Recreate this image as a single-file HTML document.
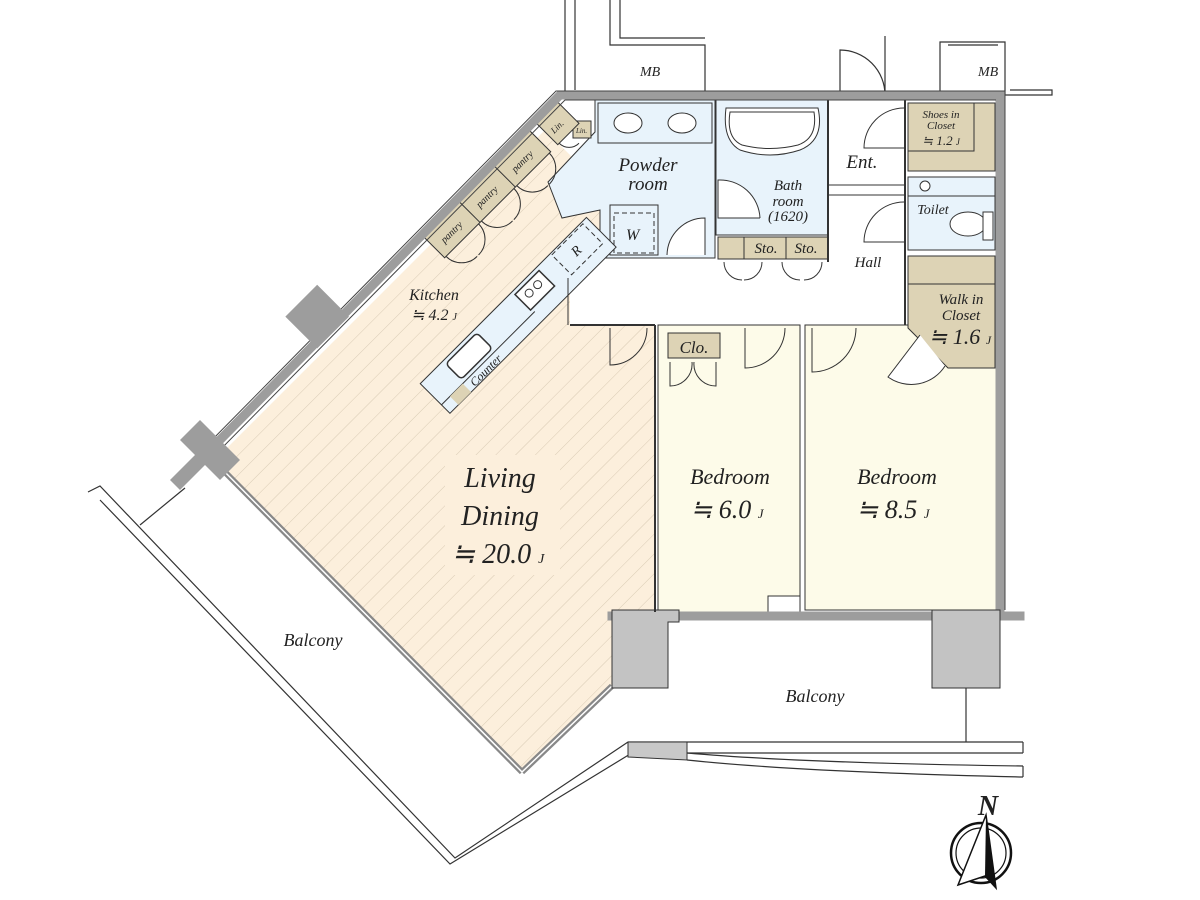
<!DOCTYPE html>
<html><head><meta charset="utf-8"><style>
html,body{margin:0;padding:0;background:#fff;}
svg{display:block;}
text{font-family:"Liberation Serif",serif;font-style:italic;fill:#222;}
</style></head><body>
<svg width="1200" height="900" viewBox="0 0 1200 900" xmlns="http://www.w3.org/2000/svg">
<defs>
<pattern id="hatch" width="14" height="14" patternUnits="userSpaceOnUse" patternTransform="rotate(45)">
<rect width="14" height="14" fill="#fcefdc"/>
<line x1="0" y1="0" x2="0" y2="14" stroke="#d9cbb4" stroke-width="1"/>
</pattern>
</defs>

<!-- top MB structures -->
<g fill="none" stroke="#333" stroke-width="1.2">
<polyline points="565,0 565,95"/>
<polyline points="575,0 575,90"/>
<polyline points="610,0 610,45 705,45 705,95"/>
<polyline points="620,0 620,38 705,38"/>
<polyline points="940,95 940,42 1005,42 1005,95 1052,95 1052,90 1010,90"/>
<line x1="948" y1="45" x2="998" y2="45"/>
<path d="M840,92 L840,50 A45,45 0 0 1 885,95"/>
<line x1="885" y1="36" x2="885" y2="95"/>
</g>
<text x="640" y="76" font-size="14">MB</text>
<text x="978" y="76" font-size="14">MB</text>

<!-- balconies -->
<g fill="none" stroke="#333" stroke-width="1.2">
<polyline points="88,492 100,486 455,858 628,742"/>
<polyline points="100,500 450,864 640,748"/>
<line x1="140" y1="525" x2="185" y2="488"/>
<line x1="628" y1="742" x2="1023" y2="742"/>
<line x1="687" y1="753" x2="1023" y2="753"/>
<line x1="1023" y1="742" x2="1023" y2="753"/>
<path d="M687,753 Q800,763 1023,766"/>
<path d="M687,760 Q800,772 1023,777"/>
<line x1="1023" y1="766" x2="1023" y2="777"/>
<line x1="966" y1="688" x2="966" y2="742"/>
</g>
<polygon points="628,742 687,742 687,760 628,757" fill="#c8c8c8" stroke="#333"/>

<!-- LD + kitchen floor -->
<polygon points="215,460 545,130 590,175 610,235 570,278 570,325 655,325 655,612 612,612 612,686 522,772" fill="url(#hatch)"/>
<rect x="445" y="455" width="115" height="120" fill="#fcefdc"/>

<!-- bedrooms -->
<rect x="658" y="325" width="142" height="287" fill="#fdfbe9" stroke="#333"/>
<rect x="805" y="325" width="192" height="285" fill="#fdfbe9" stroke="#333"/>
<rect x="768" y="596" width="32" height="16" fill="#fff" stroke="#333"/>

<!-- powder -->
<polygon points="595,100 715,100 715,258 600,258 600,210 562,218 548,182 595,132" fill="#e8f3fb" stroke="#333"/>
<rect x="598" y="103" width="114" height="40" fill="#e8f3fb" stroke="#333"/>
<ellipse cx="628" cy="123" rx="14" ry="10" fill="#fff" stroke="#333"/>
<ellipse cx="682" cy="123" rx="14" ry="10" fill="#fff" stroke="#333"/>
<rect x="573" y="121" width="18" height="17" fill="#ddd3b5" stroke="#333"/>
<text x="576" y="133" font-size="7">Lin.</text>
<rect x="610" y="205" width="48" height="50" fill="none" stroke="#333"/>
<rect x="614" y="213" width="40" height="40" fill="none" stroke="#333" stroke-dasharray="5,3"/>
<text x="626" y="240" font-size="16">W</text>
<path d="M705,255 L705,218 A38,38 0 0 0 667,255" fill="#fff" stroke="#333"/>

<!-- bath -->
<rect x="716" y="100" width="112" height="135" fill="#e8f3fb" stroke="#333"/>
<path d="M726,108 L818,108 Q825,140 800,150 Q770,160 740,150 Q722,140 726,108 Z" fill="#fff" stroke="#333"/>
<path d="M730,112 L814,112 Q818,138 798,145 Q770,152 742,145 Q726,138 730,112 Z" fill="none" stroke="#333"/>
<path d="M760,218 L718,218 L718,180 A40,40 0 0 1 760,218" fill="#fff" stroke="#333"/>
<rect x="718" y="237" width="110" height="22" fill="#ddd3b5" stroke="#333"/>
<line x1="744" y1="237" x2="744" y2="259" stroke="#333"/>
<line x1="786" y1="237" x2="786" y2="259" stroke="#333"/>
<g fill="none" stroke="#333"><path d="M724,262 A18,18 0 0 0 742,280 M762,262 A18,18 0 0 1 744,280 M782,262 A18,18 0 0 0 800,280 M822,262 A18,18 0 0 1 804,280"/></g>

<!-- Ent / hall -->
<line x1="828" y1="185" x2="905" y2="185" stroke="#333"/>
<line x1="828" y1="195" x2="905" y2="195" stroke="#333"/>
<line x1="828" y1="100" x2="828" y2="262" stroke="#333" stroke-width="2"/>
<line x1="905" y1="100" x2="905" y2="325" stroke="#333" stroke-width="2"/>
<path d="M904,148 L864,148 A40,40 0 0 1 904,108" fill="none" stroke="#333"/>
<path d="M904,242 L864,242 A40,40 0 0 1 904,202" fill="none" stroke="#333"/>

<!-- right column -->
<rect x="908" y="103" width="87" height="68" fill="#ddd3b5" stroke="#333"/>
<rect x="908" y="103" width="66" height="48" fill="none" stroke="#333"/>
<rect x="908" y="177" width="87" height="73" fill="#e8f3fb" stroke="#333"/>
<line x1="908" y1="196" x2="995" y2="196" stroke="#333"/>
<circle cx="925" cy="186" r="5" fill="#fff" stroke="#333"/>
<ellipse cx="968" cy="224" rx="18" ry="12" fill="#fff" stroke="#333"/>
<rect x="983" y="212" width="10" height="28" fill="#fff" stroke="#333"/>
<polygon points="908,256 995,256 995,368 948,368 908,328" fill="#ddd3b5" stroke="#333"/>
<line x1="908" y1="284" x2="995" y2="284" stroke="#333"/>
<path d="M945,366 A40,40 0 0 1 888,377 L920,335" fill="#fff" stroke="#333"/>

<!-- bedroom doors & closet -->
<rect x="668" y="333" width="52" height="25" fill="#ddd3b5" stroke="#333"/>
<g fill="none" stroke="#333">
<path d="M610,328 L610,365 A37,37 0 0 0 647,328"/>
<path d="M745,328 L745,368 A40,40 0 0 0 785,328"/>
<path d="M812,328 L812,372 A44,44 0 0 0 856,328"/>
<path d="M670,362 L670,386 A22,22 0 0 0 692,362 M716,362 L716,386 A22,22 0 0 1 694,362"/>
</g>

<!-- kitchen pantry strip -->
<g transform="translate(480,180) rotate(-45)">
<rect x="-80" y="0" width="150" height="30" fill="#ddd3b5" stroke="#333"/>
<line x1="-30" y1="0" x2="-30" y2="30" stroke="#333"/>
<line x1="20" y1="0" x2="20" y2="30" stroke="#333"/>
<rect x="80" y="0" width="30" height="30" fill="#ddd3b5" stroke="#333"/>
<text x="-70" y="20" font-size="10">pantry</text>
<text x="-20" y="20" font-size="10">pantry</text>
<text x="30" y="20" font-size="10">pantry</text>
<text x="85" y="20" font-size="9">Lin.</text>
<g fill="none" stroke="#333"><path d="M-78,30 A22,22 0 0 0 -56,52 M-32,30 A22,22 0 0 1 -54,52 M-28,30 A22,22 0 0 0 -6,52 M18,30 A22,22 0 0 1 -4,52 M22,30 A22,22 0 0 0 44,52 M68,30 A22,22 0 0 1 46,52 M82,30 A14,14 0 0 0 96,44"/></g>
</g>

<!-- counter -->
<g transform="translate(515,320) rotate(-45)">
<rect x="-112" y="-22" width="235" height="42" fill="#e8f3fb" stroke="#333"/>
<line x1="-112" y1="8" x2="20" y2="8" stroke="#333"/>
<rect x="-80" y="-18" width="44" height="22" rx="4" fill="#fff" stroke="#333" stroke-width="1.5"/>
<rect x="18" y="-18" width="34" height="22" fill="#fff" stroke="#333" stroke-width="1.5"/>
<circle cx="29" cy="-9" r="4" fill="none" stroke="#333"/>
<circle cx="41" cy="-9" r="4" fill="none" stroke="#333"/>
<rect x="72" y="-20" width="44" height="28" fill="#e8f3fb" stroke="#333" stroke-dasharray="5,3"/>
<text x="88" y="-1" font-size="14">R</text>
<rect x="-100" y="8" width="18" height="12" fill="#ddd3b5"/>
<text x="-76" y="19" font-size="12">Counter</text>
</g>

<!-- walls -->
<g stroke="#9d9d9d" stroke-width="9" fill="none" stroke-linecap="square">
<polyline points="1000,95 560,95 210,450"/>
<line x1="1000" y1="95" x2="1000" y2="612"/>
<polyline points="612,616 1020,616"/>
</g>
<g stroke="#444" stroke-width="1" fill="none">
<polyline points="1005,91 556,91 206,446"/>
<polyline points="996,100 565,100 215,455"/>
<line x1="1005" y1="91" x2="1005" y2="610"/>
</g>
<g stroke="#888" stroke-width="6" fill="none">
<line x1="215" y1="462" x2="522" y2="772"/>
<line x1="522" y1="772" x2="612" y2="686"/>
</g>
<g stroke="#fff" stroke-width="1.5" fill="none">
<line x1="215" y1="462" x2="522" y2="772"/>
<line x1="522" y1="772" x2="612" y2="686"/>
</g>
<polygon points="612,610 679,610 679,622 668,622 668,688 612,688" fill="#c3c3c3" stroke="#333"/>
<polygon points="932,610 1000,610 1000,688 932,688" fill="#c3c3c3" stroke="#333"/>
<rect x="286" y="300" width="45" height="45" fill="#9d9d9d" transform="rotate(45 320 330)"/>
<polygon points="180,440 200,420 240,460 220,480" fill="#9d9d9d"/>
<polygon points="170,480 205,445 215,455 180,490" fill="#9d9d9d"/>
<line x1="568" y1="278" x2="568" y2="325" stroke="#333"/>
<line x1="570" y1="325" x2="655" y2="325" stroke="#333" stroke-width="2"/>
<line x1="655" y1="325" x2="655" y2="612" stroke="#333" stroke-width="2"/>

<!-- labels -->
<text x="648" y="171" font-size="19" text-anchor="middle">Powder</text>
<text x="648" y="190" font-size="19" text-anchor="middle">room</text>
<text x="788" y="190" font-size="15" text-anchor="middle">Bath</text>
<text x="788" y="206" font-size="15" text-anchor="middle">room</text>
<text x="788" y="221" font-size="15" text-anchor="middle">(1620)</text>
<text x="766" y="253" font-size="15" text-anchor="middle">Sto.</text>
<text x="806" y="253" font-size="15" text-anchor="middle">Sto.</text>
<text x="862" y="168" font-size="19" text-anchor="middle">Ent.</text>
<text x="941" y="118" font-size="11" text-anchor="middle">Shoes in</text>
<text x="941" y="129" font-size="11" text-anchor="middle">Closet</text>
<text x="941" y="145" font-size="13" text-anchor="middle">≒ 1.2 <tspan font-size="9">J</tspan></text>
<text x="933" y="214" font-size="14" text-anchor="middle">Toilet</text>
<text x="868" y="267" font-size="15" text-anchor="middle">Hall</text>
<text x="961" y="304" font-size="15" text-anchor="middle">Walk in</text>
<text x="961" y="320" font-size="15" text-anchor="middle">Closet</text>
<text x="960" y="344" font-size="22" text-anchor="middle">≒ 1.6 <tspan font-size="12">J</tspan></text>
<text x="694" y="353" font-size="17" text-anchor="middle">Clo.</text>
<text x="434" y="300" font-size="16" text-anchor="middle">Kitchen</text>
<text x="434" y="320" font-size="16" text-anchor="middle">≒ 4.2 <tspan font-size="10">J</tspan></text>
<text x="500" y="487" font-size="28" text-anchor="middle">Living</text>
<text x="500" y="525" font-size="28" text-anchor="middle">Dining</text>
<text x="498" y="563" font-size="28" text-anchor="middle">≒ 20.0 <tspan font-size="14">J</tspan></text>
<text x="730" y="484" font-size="22" text-anchor="middle">Bedroom</text>
<text x="727" y="518" font-size="26" text-anchor="middle">≒ 6.0 <tspan font-size="13">J</tspan></text>
<text x="897" y="484" font-size="22" text-anchor="middle">Bedroom</text>
<text x="893" y="518" font-size="26" text-anchor="middle">≒ 8.5 <tspan font-size="13">J</tspan></text>
<text x="313" y="646" font-size="18" text-anchor="middle">Balcony</text>
<text x="815" y="702" font-size="18" text-anchor="middle">Balcony</text>

<!-- compass -->
<text x="988" y="815" font-size="28" text-anchor="middle" font-weight="bold">N</text>
<ellipse cx="981" cy="853" rx="30" ry="30" fill="none" stroke="#111" stroke-width="2.5"/>
<ellipse cx="981" cy="853" rx="25" ry="25" fill="none" stroke="#111" stroke-width="1.2"/>
<polygon points="986,815 996,888 985,876 958,885" fill="#fff" stroke="#111" stroke-width="1.5"/>
<polygon points="986,815 996,888 985,876" fill="#111"/>
</svg>
</body></html>
